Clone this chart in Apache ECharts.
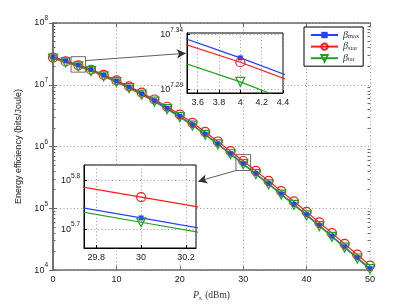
<!DOCTYPE html>
<html><head><meta charset="utf-8">
<script src="https://cdn.jsdelivr.net/npm/echarts@6/dist/echarts.min.js"></script>
<style>html,body{margin:0;padding:0;background:#fff}#c{width:408px;height:307px}</style>
</head><body><div id="c"></div>
<script>
// Transmit power P_s (dBm)
const powerDbm = [0,2,4,6,8,10,12,14,16,18,20,22,24,26,28,30,32,34,36,38,40,42,44,46,48,50];
// Energy efficiency (bits/Joule)
const betaMax  = [2.831e7,2.438e7,2.084e7,1.762e7,1.436e7,1.153e7,9.162e6,7.145e6,5.495e6,4.150e6,3.076e6,2.244e6,1.585e6,1.104e6,7.638e5,5.284e5,3.648e5,2.500e5,1.706e5,1.159e5,7.852e4,5.284e4,3.548e4,2.371e4,1.585e4,1.054e4];
const betaStar = [2.754e7,2.388e7,2.065e7,1.750e7,1.445e7,1.175e7,9.441e6,7.447e6,5.781e6,4.406e6,3.296e6,2.421e6,1.722e6,1.208e6,8.414e5,5.834e5,4.036e5,2.773e5,1.897e5,1.291e5,8.750e4,5.902e4,3.963e4,2.655e4,1.774e4,1.183e4];
const betaTar  = [2.661e7,2.301e7,1.982e7,1.667e7,1.368e7,1.104e7,8.810e6,6.902e6,5.321e6,4.027e6,2.992e6,2.188e6,1.549e6,1.081e6,7.499e5,5.176e5,3.573e5,2.449e5,1.671e5,1.135e5,7.674e4,5.164e4,3.459e4,2.312e4,1.542e4,1.035e4];

const seriesNames = ['βmax','βstar','βtar'];
const seriesSubs = ['max','star','tar'];
const xTicks = [0,10,20,30,40,50];
const yDecadeExps = [4,5,6,7,8];
const inset1XTicks = [3.6,3.8,4,4.2,4.4];
const inset1YTickExps = ['7.29','7.34'];
const inset2XTicks = [29.8,30,30.2];
const inset2YTickExps = ['5.7','5.8'];

const colors = ['#2442ff','#ff1a1a','#22a022'];
const FONT = 'Liberation Sans';
const SERIF = 'Liberation Serif';

const minorTicks = [];
for (let e = 4; e < 8; e++) for (let k = 2; k <= 9; k++) minorTicks.push(k * Math.pow(10, e));

const supRich = {
  b: {fontSize: 9, fontFamily: FONT, color: '#1a1a1a', verticalAlign: 'middle', lineHeight: 16},
  s: {fontSize: 6.5, fontFamily: FONT, color: '#1a1a1a', verticalAlign: 'top', lineHeight: 16}
};

function pairs(arr) { return powerDbm.map((p, i) => [p, arr[i]]); }
const dataSets = [betaMax, betaStar, betaTar];

const symbols = ['rect', 'circle', 'triangle'];
const symSizes = [5, 9, 9];
const symRot = [0, 0, 180];

function mkSeries(i, xi, yi, z, isMain) {
  const s = {
    name: seriesNames[i], type: 'line', xAxisIndex: xi, yAxisIndex: yi,
    data: pairs(dataSets[i]), z: z, clip: true,
    symbol: symbols[i], symbolSize: symSizes[i], symbolRotate: symRot[i], showAllSymbol: true,
    lineStyle: {color: colors[i], width: 1.2},
    itemStyle: i === 0 ? {color: colors[i], borderColor: colors[i], borderWidth: 0}
                       : {color: 'rgba(255,255,255,0)', borderColor: colors[i], borderWidth: 1.2},
    animation: false, emphasis: {disabled: true}, silent: true
  };
  return s;
}

const series = [];
for (let i = 0; i < 3; i++) series.push(mkSeries(i, 0, 0, 2, true));
// zoom rectangles & arrows attached to first main series
series[0].markArea = {
  silent: true,
  itemStyle: {color: 'rgba(0,0,0,0)', borderColor: '#444', borderWidth: 0.8},
  data: [
    [{coord: [2.85, 2.851e7]}, {coord: [5.12, 1.603e7]}],
    [{coord: [28.85, 7.396e5]}, {coord: [31.17, 4.093e5]}]
  ]
};
series[0].markLine = {
  silent: true, symbol: ['none', 'arrow'], symbolSize: [7, 9],
  lineStyle: {color: '#333', width: 0.8, type: 'solid'}, label: {show: false},
  data: [
    [{coord: [5.12, 2.460e7]}, {coord: [20.95, 3.236e7]}],
    [{coord: [28.84, 4.093e5]}, {coord: [22.89, 2.729e5]}]
  ]
};
for (let i = 0; i < 3; i++) series.push(mkSeries(i, 2, 4, 6, false));
for (let i = 0; i < 3; i++) series.push(mkSeries(i, 3, 5, 6, false));

const gridLine = {show: true, lineStyle: {color: '#9a9a9a', type: [1, 2.5], width: 1}};
const axisCol = '#6a6a6a';

const option = {
  backgroundColor: '#fff',
  animation: false,
  grid: [
    {left: 53, top: 23, width: 317, height: 250, show: false},
    {left: 187, top: 33, width: 96, height: 60, show: true, backgroundColor: '#fff', borderColor: '#000', borderWidth: 1, z: 3},
    {left: 84, top: 165, width: 112, height: 83, show: true, backgroundColor: '#fff', borderColor: '#000', borderWidth: 1, z: 3}
  ],
  xAxis: [
    {gridIndex: 0, type: 'value', position: 'bottom', min: xTicks[0], max: xTicks[xTicks.length - 1], interval: 10,
     axisLine: {lineStyle: {color: axisCol, width: 1.5}}, axisTick: {inside: true, length: 4, lineStyle: {color: axisCol}},
     axisLabel: {fontSize: 9, fontFamily: FONT, color: '#1a1a1a', margin: 5},
     splitLine: gridLine,
     name: '{i|P}{sb|s} {r|(dBm)}', nameLocation: 'middle', nameGap: 15,
     nameTextStyle: {rich: {
       i: {fontFamily: SERIF, fontStyle: 'italic', fontSize: 10, color: '#333'},
       sb: {fontFamily: SERIF, fontSize: 7, color: '#333', verticalAlign: 'bottom', lineHeight: 14},
       r: {fontFamily: SERIF, fontSize: 9.5, color: '#333'}
     }}},
    {gridIndex: 0, type: 'value', position: 'top', min: 0, max: 50, interval: 10,
     axisLine: {lineStyle: {color: axisCol, width: 1.5}}, axisTick: {inside: true, length: 4, lineStyle: {color: axisCol}},
     axisLabel: {show: false}, splitLine: {show: false}},
    {gridIndex: 1, type: 'value', min: 3.5, max: 4.4, z: 4,
     axisLine: {lineStyle: {color: '#000', width: 1}},
     axisTick: {inside: true, length: 3, customValues: inset1XTicks, lineStyle: {color: '#000'}},
     axisLabel: {customValues: inset1XTicks, fontSize: 9, fontFamily: FONT, color: '#1a1a1a', margin: 5},
     splitLine: gridLine},
    {gridIndex: 2, type: 'value', min: 29.745, max: 30.245, z: 4,
     axisLine: {lineStyle: {color: '#000', width: 1}},
     axisTick: {inside: true, length: 3, customValues: inset2XTicks, lineStyle: {color: '#000'}},
     axisLabel: {customValues: inset2XTicks, fontSize: 9, fontFamily: FONT, color: '#1a1a1a', margin: 5},
     splitLine: gridLine}
  ],
  yAxis: [
    {gridIndex: 0, type: 'log', logBase: 10, min: 1e4, max: 1e8, position: 'left',
     axisLine: {lineStyle: {color: axisCol, width: 1.5}}, axisTick: {inside: true, length: 4, lineStyle: {color: axisCol}},
     axisLabel: {margin: 5, formatter: v => '{b|10}{s|' + Math.round(Math.log10(v)) + '}', rich: supRich},
     splitLine: gridLine, minorTick: {show: false},
     name: 'Energy efficiency (bits/Joule)', nameLocation: 'middle', nameGap: 27, nameRotate: 90,
     nameTextStyle: {fontSize: 9, fontFamily: FONT, color: '#1a1a1a'}},
    {gridIndex: 0, type: 'log', logBase: 10, min: 1e4, max: 1e8, position: 'right',
     axisLine: {lineStyle: {color: axisCol, width: 1.5}}, axisTick: {inside: true, length: 4, lineStyle: {color: axisCol}},
     axisLabel: {show: false}, splitLine: {show: false}},
    {gridIndex: 0, type: 'log', logBase: 10, min: 1e4, max: 1e8, position: 'left',
     axisLine: {show: false}, axisTick: {inside: true, length: 2.5, customValues: minorTicks, lineStyle: {color: axisCol}},
     axisLabel: {show: false}, splitLine: {show: false}},
    {gridIndex: 0, type: 'log', logBase: 10, min: 1e4, max: 1e8, position: 'right',
     axisLine: {show: false}, axisTick: {inside: true, length: 2.5, customValues: minorTicks, lineStyle: {color: axisCol}},
     axisLabel: {show: false}, splitLine: {show: false}},
    {gridIndex: 1, type: 'log', logBase: 10, min: Math.pow(10, 7.287), max: Math.pow(10, 7.3415), z: 4,
     axisLine: {lineStyle: {color: '#000', width: 1}},
     axisTick: {inside: true, length: 3, customValues: inset1YTickExps.map(e => Math.pow(10, +e)), lineStyle: {color: '#000'}},
     axisLabel: {margin: 4, customValues: inset1YTickExps.map(e => Math.pow(10, +e)),
       formatter: v => '{b|10}{s|' + Math.log10(v).toFixed(2) + '}', rich: supRich},
     splitLine: gridLine},
    {gridIndex: 2, type: 'log', logBase: 10, min: Math.pow(10, 5.661), max: Math.pow(10, 5.832), z: 4,
     axisLine: {lineStyle: {color: '#000', width: 1}},
     axisTick: {inside: true, length: 3, customValues: inset2YTickExps.map(e => Math.pow(10, +e)), lineStyle: {color: '#000'}},
     axisLabel: {margin: 4, customValues: inset2YTickExps.map(e => Math.pow(10, +e)),
       formatter: v => '{b|10}{s|' + Math.log10(v).toFixed(1) + '}', rich: supRich},
     splitLine: gridLine}
  ],
  legend: {
    orient: 'vertical', left: 304, top: 27, itemWidth: 27, itemHeight: 8, itemGap: 1.6,
    padding: [3, 4, 3, 6], borderColor: '#000', borderWidth: 1, backgroundColor: '#fff', z: 10,
    data: seriesNames, selectedMode: false,
    formatter: n => '{g|β}{s|' + seriesSubs[seriesNames.indexOf(n)] + '}',
    textStyle: {rich: {
      g: {fontFamily: SERIF, fontStyle: 'italic', fontSize: 10, color: '#333', lineHeight: 10},
      s: {fontFamily: SERIF, fontSize: 6.5, color: '#333', verticalAlign: 'bottom', lineHeight: 10}
    }}
  },
  series: series
};

const chart = echarts.init(document.getElementById('c'), null, {renderer: 'canvas'});
chart.setOption(option);
</script>
</body></html>
